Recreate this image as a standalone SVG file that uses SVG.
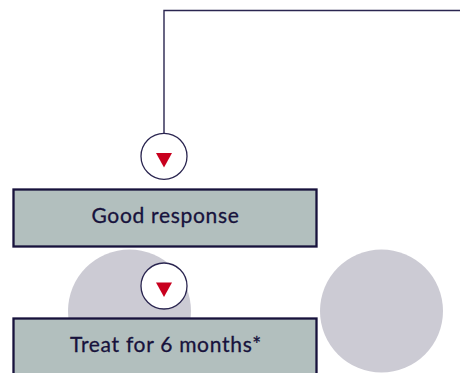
<svg xmlns="http://www.w3.org/2000/svg" width="460" height="373" viewBox="0 0 460 373">
<style>
.blob{fill:#cccbd4}
.box{fill:#b2bfbe;stroke:#17123c;stroke-width:2.300}
.lbl{font-family:"Lato","Liberation Sans",sans-serif;font-size:21px;fill:#17123c;stroke:#17123c;stroke-width:.3px;text-anchor:middle;letter-spacing:.7px}
.ring{fill:#fff;stroke:#2a2550;stroke-width:1.300}
.tri{fill:#c8001e}
.line{fill:none;stroke:#2a2550;stroke-width:1.400}
</style>
<rect width="460" height="373" fill="#fff"/>
<circle class="blob" cx="129.5" cy="311" r="61.5"/>
<circle class="blob" cx="381.5" cy="311" r="61.5"/>
<g id="connectors"><path class="line" d="M164 133V10.500H460"/></g>
<g id="node-good"><rect class="box" x="13.500" y="189.500" width="303" height="57"/><text class="lbl" x="165.500" y="222.500">Good response</text></g>
<g id="node-treat"><rect class="box" x="13.500" y="318.500" width="303" height="70"/><text class="lbl" x="166" y="351.500">Treat for 6 months*</text></g>
<g id="arrow-1"><circle class="ring" cx="164" cy="156.300" r="23"/><path class="tri" d="M156 153H172L164 167.500Z"/></g>
<g id="arrow-2"><circle class="ring" cx="164" cy="286" r="23"/><path class="tri" d="M156 282.500H172L164 297Z"/></g>
</svg>
